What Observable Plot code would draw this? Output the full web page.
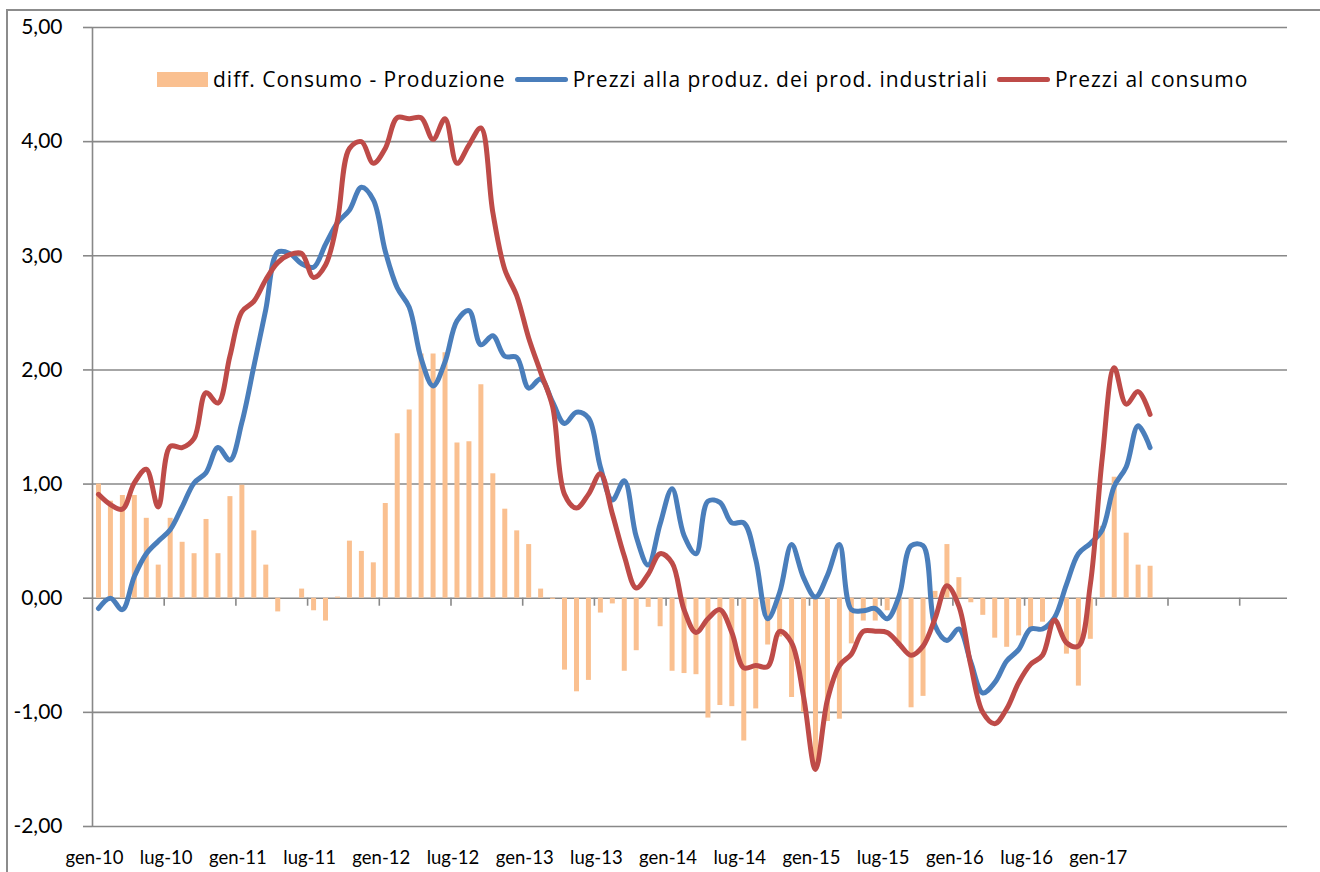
<!DOCTYPE html>
<html>
<head>
<meta charset="utf-8">
<script src="https://cdn.jsdelivr.net/npm/d3@7"></script>
<script src="https://cdn.jsdelivr.net/npm/@observablehq/plot@0.6"></script>
<style>
  body { margin: 0; background: #ffffff; font-family: Lato, "Open Sans", sans-serif; }
  #wrap { position: relative; width: 1320px; height: 872px; overflow: hidden; background: #fff; }
  #frame { position: absolute; left: 6px; top: 9px; width: 1400px; height: 900px;
           border-left: 2px solid #8c8c8c; border-top: 2px solid #8c8c8c; }
  #chart { position: absolute; left: 0; top: 0; }
  #legend { position: absolute; top: 65px; left: 157px; display: flex; align-items: center;
            font-size: 21px; letter-spacing: 1px; color: #000; white-space: nowrap;
            font-family: "Open Sans", Lato, sans-serif; }
  .sw-bar { width: 51px; height: 15px; background: #FAC090; margin-right: 5px; }
  .sw-line { width: 53px; height: 5px; border-radius: 3px; margin-right: 5px; margin-left: 9px; }
</style>
</head>
<body>
<div id="wrap">
  <div id="frame"></div>
  <div id="chart"></div>
  <div id="legend"></div>
</div>
<script>
// ---- data (monthly, gen-10 .. mag-17) ----
const seriesNames = ["diff. Consumo - Produzione", "Prezzi alla produz. dei prod. industriali", "Prezzi al consumo"];
const seriesColors = ["#FAC090", "#4A7EBB", "#BE4B48"];

const diffConsProd = [
  1.00, 0.85, 0.90, 0.90, 0.70, 0.29, 0.70, 0.49, 0.39, 0.69, 0.39, 0.89,
  0.99, 0.59, 0.29, -0.12, 0.00, 0.08, -0.11, -0.20, 0.01, 0.50, 0.41, 0.31,
  0.83, 1.44, 1.65, 2.14, 2.14, 2.15, 1.36, 1.37, 1.87, 1.09, 0.78, 0.59,
  0.47, 0.08, -0.01, -0.63, -0.82, -0.72, -0.13, -0.05, -0.64, -0.46, -0.08, -0.25,
  -0.64, -0.66, -0.67, -1.05, -0.94, -0.95, -1.25, -0.97, -0.41, -0.34, -0.87, -1.00,
  -1.51, -1.08, -1.06, -0.40, -0.20, -0.20, -0.11, -0.42, -0.96, -0.86, 0.06, 0.47,
  0.18, -0.04, -0.15, -0.35, -0.43, -0.33, -0.27, -0.21, -0.01, -0.49, -0.77, -0.36,
  0.63, 1.06, 0.57, 0.29, 0.28
];
const prezziProduzione = [
  -0.09, 0.00, -0.10, 0.19, 0.39, 0.50, 0.60, 0.80, 1.01, 1.10, 1.32, 1.21,
  1.54, 2.03, 2.53, 3.03, 3.02, 2.93, 2.90, 3.10, 3.29, 3.40, 3.60, 3.49,
  3.04, 2.72, 2.55, 2.10, 1.86, 2.07, 2.43, 2.52, 2.22, 2.30, 2.12, 2.11,
  1.84, 1.92, 1.72, 1.53, 1.63, 1.58, 1.15, 0.86, 1.03, 0.54, 0.29, 0.65,
  0.96, 0.55, 0.39, 0.85, 0.84, 0.66, 0.66, 0.34, -0.18, 0.05, 0.47, 0.18,
  0.01, 0.20, 0.47, -0.10, -0.11, -0.09, -0.18, 0.02, 0.46, 0.46, -0.24, -0.37,
  -0.27, -0.56, -0.83, -0.74, -0.55, -0.45, -0.27, -0.27, -0.17, 0.12, 0.39, 0.48,
  0.60, 0.98, 1.15, 1.51, 1.32
];
const prezziConsumo = [
  0.91, 0.82, 0.78, 1.01, 1.13, 0.80, 1.33, 1.32, 1.40, 1.80, 1.71, 2.12,
  2.51, 2.60, 2.79, 2.94, 3.01, 3.02, 2.81, 2.92, 3.31, 3.94, 4.00, 3.81,
  3.94, 4.21, 4.20, 4.21, 4.02, 4.20, 3.81, 3.97, 4.12, 3.38, 2.88, 2.65,
  2.28, 1.98, 1.68, 0.91, 0.79, 0.91, 1.09, 0.74, 0.37, 0.09, 0.21, 0.39,
  0.31, -0.10, -0.30, -0.18, -0.10, -0.30, -0.61, -0.59, -0.60, -0.29, -0.39, -0.86,
  -1.50, -0.89, -0.59, -0.49, -0.29, -0.29, -0.30, -0.40, -0.50, -0.42, -0.18, 0.11,
  -0.07, -0.59, -1.00, -1.10, -0.97, -0.74, -0.58, -0.50, -0.19, -0.39, -0.42, 0.12,
  1.23, 2.02, 1.70, 1.81, 1.61
];
const tickLabels = ["gen-10","lug-10","gen-11","lug-11","gen-12","lug-12","gen-13","lug-13",
                    "gen-14","lug-14","gen-15","lug-15","gen-16","lug-16","gen-17"];
const yTicks = [-2, -1, 0, 1, 2, 3, 4, 5];
const categoryCount = 100;   // gen-10 .. apr-18 on the category axis
const labelEvery = 6;

// ---- build table ----
const rows = diffConsProd.map((d, i) => ({
  i, diff: d, prod: prezziProduzione[i], cons: prezziConsumo[i]
}));
const xDomain = [-0.5, categoryCount - 0.5];
const labelPos = tickLabels.map((_, k) => k * labelEvery);
const tickPos = d3.range(labelEvery - 0.5, categoryCount - 0.5, labelEvery);
const grid = "#888888";
const fmt = d => d.toFixed(2).replace(".", ",");

const chart = Plot.plot({
  width: 1320,
  height: 872,
  marginLeft: 92,
  marginRight: 33,
  marginTop: 27,
  marginBottom: 46,
  style: { background: "transparent", fontFamily: "Lato, sans-serif", color: "#000" },
  x: { domain: xDomain, axis: null },
  y: { domain: [-2, 5], axis: null },
  marks: [
    Plot.ruleY(yTicks, { stroke: grid, strokeWidth: 1.6 }),
    Plot.ruleX([xDomain[0]], { stroke: grid, strokeWidth: 1.6 }),
    Plot.ruleX(tickPos, { x: d => d, y1: 0, y2: 0, insetBottom: -8, stroke: grid, strokeWidth: 1.6 }),
    Plot.axisY({ ticks: yTicks, tickFormat: fmt, tickSize: 9, tickPadding: 21, stroke: grid,
                 strokeWidth: 1.6, fontSize: 21, fill: "#000", label: null }),
    Plot.axisX({ ticks: labelPos, tickFormat: (d) => tickLabels[d / labelEvery], tickSize: 0,
                 tickPadding: 24, fontSize: 18.5, fill: "#000", dx: -4, label: null }),
    Plot.ruleX(rows, { x: "i", y1: 0, y2: "diff", stroke: seriesColors[0], strokeWidth: 5 }),
    Plot.lineY(rows, { x: "i", y: "prod", stroke: seriesColors[1], strokeWidth: 5, curve: "catmull-rom",
                       strokeLinecap: "round", strokeLinejoin: "round" }),
    Plot.lineY(rows, { x: "i", y: "cons", stroke: seriesColors[2], strokeWidth: 5, curve: "catmull-rom",
                       strokeLinecap: "round", strokeLinejoin: "round" })
  ]
});
document.getElementById("chart").appendChild(chart);

// ---- legend (inside the plot area, as in the original) ----
const legend = document.getElementById("legend");
seriesNames.forEach((name, k) => {
  const sw = document.createElement("span");
  if (k === 0) { sw.className = "sw-bar"; }
  else { sw.className = "sw-line"; sw.style.background = seriesColors[k]; }
  legend.appendChild(sw);
  const t = document.createElement("span");
  t.textContent = name;
  legend.appendChild(t);
});
</script>
</body>
</html>
